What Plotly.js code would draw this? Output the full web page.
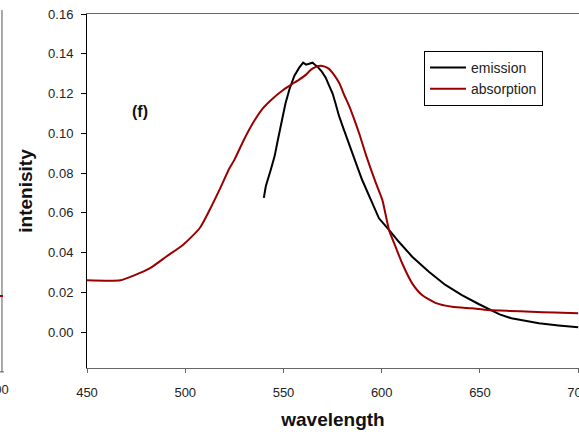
<!DOCTYPE html>
<html>
<head>
<meta charset="utf-8">
<script src="https://cdn.plot.ly/plotly-3.0.1.min.js"></script>
<style>html,body{margin:0;padding:0;background:#fff;}#chart{width:579px;height:435px;}</style>
</head>
<body>
<div id="chart"></div>
<script>
// Emission spectrum (black)
var emissionX = [540, 541, 543.5, 545.5, 547, 549.5, 551, 553, 555.5, 558, 560, 561.5, 563, 564.8, 566, 567.3, 569.5, 571.5, 573, 575, 576.5, 578.3, 580.5, 582.5, 584.5, 586, 588, 590, 592.5, 595, 598.6, 603.7, 608.7, 615.5, 624, 632.4, 640.8, 649.3, 654.4, 660, 666, 673, 680, 690, 700];
var emissionY = [0.0675, 0.0733, 0.0815, 0.0885, 0.096, 0.1086, 0.115, 0.122, 0.1288, 0.133, 0.1355, 0.1345, 0.135, 0.1355, 0.1345, 0.1335, 0.131, 0.128, 0.1245, 0.12, 0.115, 0.1086, 0.1025, 0.0968, 0.091, 0.0876, 0.082, 0.0766, 0.071, 0.065, 0.0572, 0.0514, 0.0454, 0.0379, 0.0303, 0.0237, 0.0186, 0.0141, 0.0117, 0.0089, 0.0069, 0.0055, 0.0044, 0.0033, 0.0024];

// Absorption spectrum (dark red)
var absorptionX = [450, 467, 474, 481.9, 490.4, 498.8, 507.3, 512.4, 517.4, 522.5, 525, 530, 535, 539.5, 544, 549.5, 554, 558, 561.5, 564, 566.5, 569, 571, 573, 576, 578.5, 581, 583.5, 586, 588.5, 592, 597, 600.3, 603.7, 607, 610.4, 615.5, 620.5, 627.3, 635.8, 645.9, 654, 665, 676, 688, 700];
var absorptionY = [0.026, 0.026, 0.0285, 0.032, 0.038, 0.0438, 0.0522, 0.0614, 0.0715, 0.0824, 0.0866, 0.097, 0.106, 0.1125, 0.117, 0.1215, 0.1245, 0.127, 0.1295, 0.132, 0.1334, 0.134, 0.1335, 0.1325, 0.129, 0.125, 0.119, 0.1135, 0.107, 0.1, 0.089, 0.075, 0.0665, 0.0514, 0.043, 0.0346, 0.0245, 0.0186, 0.0147, 0.0127, 0.0119, 0.0111, 0.0106, 0.0102, 0.0098, 0.0094];

var yTickVals = [0, 0.02, 0.04, 0.06, 0.08, 0.10, 0.12, 0.14, 0.16];
var yTickText = ["0.00", "0.02", "0.04", "0.06", "0.08", "0.10", "0.12", "0.14", "0.16"];
var xTickVals = [450, 500, 550, 600, 650, 700];

var traces = [
  {x: emissionX, y: emissionY, type: 'scatter', mode: 'lines', name: 'emission',
   line: {color: '#000000', width: 2}},
  {x: absorptionX, y: absorptionY, type: 'scatter', mode: 'lines', name: 'absorption',
   line: {color: '#9b0000', width: 2, shape: 'spline', smoothing: 0.6}}
];

var layout = {
  width: 579, height: 435,
  margin: {l: 87, r: 0, t: 14, b: 67},
  paper_bgcolor: '#ffffff', plot_bgcolor: '#ffffff',
  font: {family: 'Liberation Sans, Arial, sans-serif', size: 13, color: '#222'},
  showlegend: true,
  legend: {x: 0.685, y: 0.8955, xanchor: 'left', yanchor: 'top',
           bordercolor: '#000', borderwidth: 1, bgcolor: '#fff',
           font: {size: 14, color: '#222'}, itemwidth: 36},
  xaxis: {range: [450, 700.4], tickvals: xTickVals, ticks: 'outside', ticklen: 4,
          tickcolor: '#666', showline: true, linecolor: '#666', linewidth: 1, mirror: true,
          showgrid: false, zeroline: false, ticklabelstandoff: 8, ticklabeloverflow: 'allow',
          title: {text: '<b>wavelength</b>', font: {size: 19, color: '#111'}, standoff: 14}},
  yaxis: {range: [-0.0181, 0.16], tickvals: yTickVals, ticktext: yTickText, ticks: 'outside', ticklen: 5,
          tickcolor: '#000', showline: true, linecolor: '#000', linewidth: 1,
          showgrid: false, zeroline: false, ticklabelstandoff: 5,
          title: {text: '<b>intenisity</b>', font: {size: 19, color: '#111'}, standoff: 10}},
  annotations: [
    {text: '<b>(f)</b>', x: 476.9, y: 0.1108, xref: 'x', yref: 'y', showarrow: false,
     font: {size: 16, color: '#111'}},
    {text: '700', x: -0.1545, y: -0.062, xref: 'paper', yref: 'paper', xanchor: 'right', yanchor: 'middle',
     showarrow: false, font: {size: 13, color: '#222'}}
  ],
  shapes: [
    {type: 'line', xref: 'paper', yref: 'paper', x0: -0.1728, x1: -0.1728, y0: 1.011, y1: -0.011,
     line: {color: '#555', width: 1}},
    {type: 'line', xref: 'paper', yref: 'paper', x0: -0.1768, x1: -0.1688, y0: -0.011, y1: -0.011,
     line: {color: '#555', width: 1}},
    {type: 'line', xref: 'paper', yref: 'paper', x0: -0.1768, x1: -0.1708, y0: 0.2034, y1: 0.2034,
     line: {color: '#9b0000', width: 2}}
  ]
};

Plotly.newPlot('chart', traces, layout, {displayModeBar: false, staticPlot: true});
</script>
</body>
</html>
